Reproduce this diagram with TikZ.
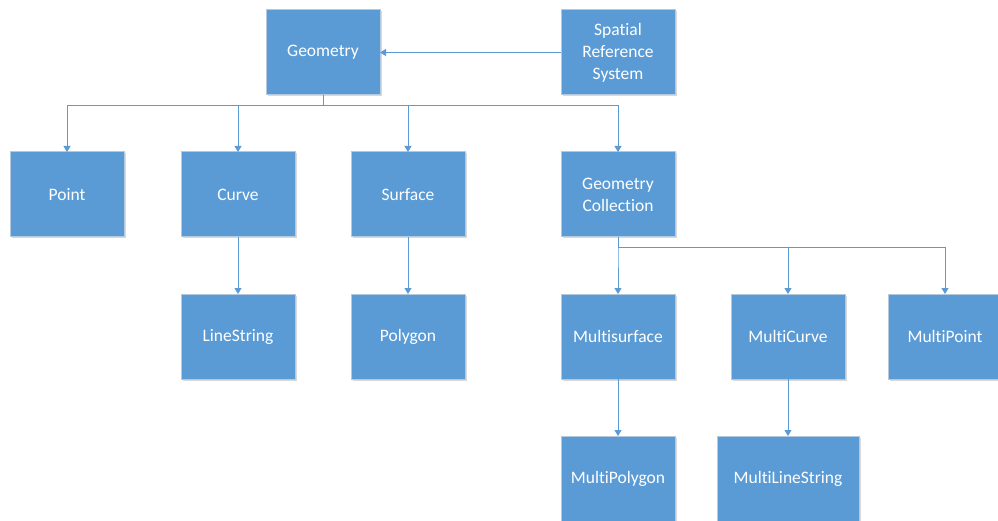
\documentclass[tikz,border=0pt]{standalone}
\usepackage{fontspec}
\setmainfont{Carlito}[Ligatures={NoCommon}]
\usetikzlibrary{arrows.meta,shadows}
\definecolor{boxblue}{HTML}{5B9BD5}
\definecolor{boxedge}{HTML}{B4C8DE}
\definecolor{linkblue}{HTML}{5B9BD5}
\tikzset{
  classbox/.style={rectangle, fill=boxblue, draw=boxedge, line width=1pt,
    minimum width=114pt, minimum height=85pt, inner sep=2pt, outer sep=0pt,
    text=white, align=center, font=\fontsize{17.5}{22}\selectfont,
    drop shadow={shadow xshift=1.5pt, shadow yshift=-1.5pt, opacity=0.25, fill=black!60}},
  link/.style={draw=linkblue, line width=1pt, -{Triangle[width=7pt,length=6pt]}},
}
\begin{document}
\begin{tikzpicture}[x=1pt, y=-1pt]
\useasboundingbox (0,0) rectangle (998,521);
\clip (0,0) rectangle (998,521);
% top row
\node[classbox] (geo) at (323,52.5) {Geometry};
\node[classbox] (srs) at (618,52.5) {Spatial\\Reference\\System};
% second row
\node[classbox] (pt)  at (67,194.5)  {Point};
\node[classbox] (cur) at (238,194.5) {Curve};
\node[classbox] (sur) at (408,194.5) {Surface};
\node[classbox] (gc)  at (618,194.5) {Geometry\\Collection};
% third row
\node[classbox] (ls)  at (238,336.5) {LineString};
\node[classbox] (pg)  at (408,336.5) {Polygon};
\node[classbox] (ms)  at (618,336.5) {Multisurface};
\node[classbox] (mc)  at (788,336.5) {MultiCurve};
\node[classbox] (mp)  at (945,336.5) {MultiPoint};
% fourth row
\node[classbox] (mpg) at (618,478.5) {MultiPolygon};
\node[classbox, minimum width=142pt] (mls) at (788,478.5) {MultiLineString};

% reference system association
\draw[link] (srs.west) -- (geo.east);

% Geometry subtypes
\draw[link] (geo.south) -- ++(0,10.5) -| (pt.north);
\draw[link] (geo.south) -- ++(0,10.5) -| (cur.north);
\draw[link] (geo.south) -- ++(0,10.5) -| (sur.north);
\draw[link] (geo.south) -- ++(0,10.5) -| (gc.north);

\draw[link] (cur.south) -- (ls.north);
\draw[link] (sur.south) -- (pg.north);

% collection subtypes
\draw[link] (gc.south) -- ++(0,10.5) -| (ms.north);
\draw[link] (gc.south) -- ++(0,10.5) -| (mc.north);
\draw[link] (gc.south) -- ++(0,10.5) -| (mp.north);

\draw[link] (ms.south) -- (mpg.north);
\draw[link] (mc.south) -- (mls.north);
\end{tikzpicture}
\end{document}
